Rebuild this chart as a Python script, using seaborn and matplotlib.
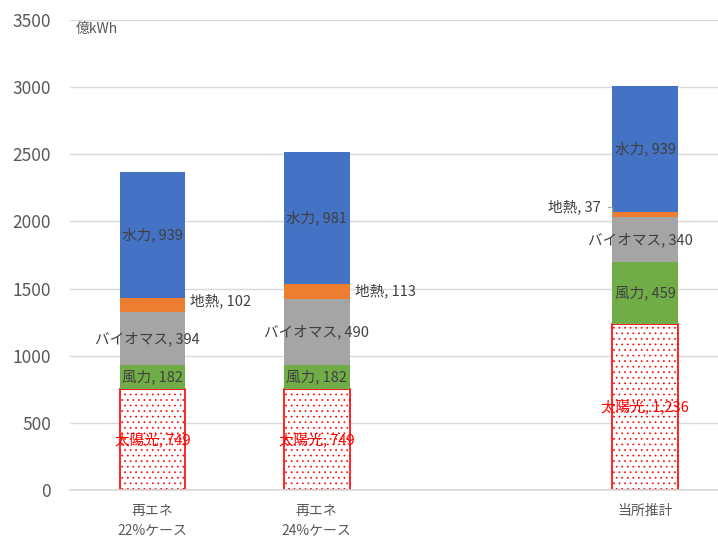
import numpy as np
import pandas as pd
import matplotlib
matplotlib.use("Agg")
import matplotlib.pyplot as plt
import seaborn as sns

# data (億kWh)
cases = ["再エネ\n22%ケース", "再エネ\n24%ケース", " ", "当所推計"]
present = [cases[0], cases[1], cases[3]]
sources = ["太陽光", "風力", "バイオマス", "地熱", "水力"]
solar = [749, 749, 1236]
wind = [182, 182, 459]
biomass = [394, 490, 340]
geo = [102, 113, 37]
hydro = [939, 981, 939]

values = {"太陽光": solar, "風力": wind, "バイオマス": biomass, "地熱": geo, "水力": hydro}
colors = {"太陽光": "white", "風力": "#70AD47", "バイオマス": "#A5A5A5",
          "地熱": "#ED7D31", "水力": "#4472C4"}

sns.set_theme(style="white")
plt.rcParams["font.family"] = ["Noto Sans CJK JP", "DejaVu Sans"]
plt.rcParams["hatch.linewidth"] = 0.5

fig = plt.figure(figsize=(7.18, 5.39), dpi=100)
ax = fig.add_axes([0.098, 0.091, 0.915, 0.872])

bottom = np.zeros(len(present))
for src in sources:
    df = pd.DataFrame({"case": present, "val": values[src]})
    if src == "太陽光":
        sns.barplot(data=df, x="case", y="val", order=cases, color="white",
                    saturation=1, width=0.4, bottom=bottom, ax=ax,
                    edgecolor="#FF0000", linewidth=1.2, hatch="...")
    else:
        sns.barplot(data=df, x="case", y="val", order=cases, color=colors[src],
                    saturation=1, width=0.4, bottom=bottom, ax=ax, linewidth=0)
    bottom = bottom + np.array(values[src])

# labels
pos = [0, 1, 3]
geo_shift = [30, 5]
txt = "#404040"
fs = 10.5
for i, p in enumerate(pos):
    b = 0
    for src in sources:
        v = values[src][i]
        mid = b + v / 2
        label = f"{src}, {v:,}"
        if src == "太陽光":
            ax.text(p, mid, label, ha="center", va="center", fontsize=fs, color="#FF0000")
        elif src == "地熱":
            if p == 3:
                ax.annotate(label, xy=(p - 0.2, b + v - 5), xytext=(p - 0.27, b + v + 35),
                            ha="right", va="center", fontsize=fs, color=txt,
                            arrowprops=dict(arrowstyle="-", color="#A6A6A6", lw=0.8,
                                            connectionstyle="angle,angleA=0,angleB=90,rad=0",
                                            shrinkA=3, shrinkB=0))
            else:
                ax.text(p + 0.23, mid + geo_shift[i], label, ha="left", va="center",
                        fontsize=fs, color=txt)
        elif src == "バイオマス" and p != 1:
            ax.text(p - 0.03, mid, label, ha="center", va="center", fontsize=fs, color=txt)
        else:
            ax.text(p, mid, label, ha="center", va="center", fontsize=fs, color=txt)
        b += v

ax.set_ylim(0, 3500)
ax.set_xlim(-0.5, 3.5)
ax.set_yticks(np.arange(0, 3501, 500))
ax.yaxis.grid(True, color="#D9D9D9", linewidth=1)
ax.set_axisbelow(True)
for s in ["left", "right", "top"]:
    ax.spines[s].set_visible(False)
ax.spines["bottom"].set_color("#D9D9D9")
ax.tick_params(axis="y", labelsize=12.5, labelcolor="#595959", length=0, pad=14)
ax.tick_params(axis="x", labelsize=10, labelcolor="#595959", length=0, pad=10)
for t in ax.get_xticklabels():
    t.set_linespacing(1.5)
ax.set_xlabel("")
ax.set_ylabel("")
ax.text(0.008, 0.995, "億kWh", transform=ax.transAxes, ha="left", va="top",
        fontsize=10, color="#595959")

fig.savefig("out.png", dpi=100)
